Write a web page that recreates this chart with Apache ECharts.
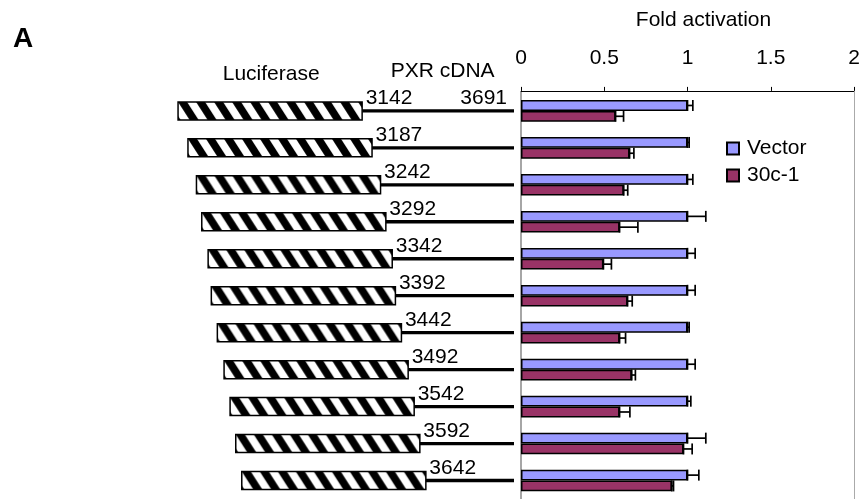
<!DOCTYPE html>
<html><head><meta charset="utf-8">
<script src="https://cdn.jsdelivr.net/npm/echarts@6/dist/echarts.min.js"></script>
<style>html,body{margin:0;padding:0;background:#fff}#c{width:863px;height:499px}</style>
</head><body><div id="c"></div>
<script>
// ---- data ----
const categories = ['3142','3187','3242','3292','3342','3392','3442','3492','3542','3592','3642'];
const cdnaEndLabel = '3691';
const seriesNames = ['Vector', '30c-1'];
const vectorValues = [1, 1, 1, 1, 1, 1, 1, 1, 1, 1, 1];
const vectorErrors = [0.032, 0.01, 0.032, 0.11, 0.046, 0.046, 0.01, 0.046, 0.02, 0.11, 0.068];
const c30Values = [0.568, 0.652, 0.617, 0.592, 0.495, 0.640, 0.592, 0.665, 0.592, 0.976, 0.906];
const c30Errors = [0.048, 0.026, 0.024, 0.11, 0.048, 0.028, 0.036, 0.022, 0.062, 0.052, 0.01];
// schematic diagram (arbitrary diagram units 0-100): end of luciferase block per construct
const lucEnd = [57.1, 59.9, 62.3, 63.8, 65.6, 66.5, 68.2, 70.1, 71.8, 73.4, 75.1];
const lucLength = 52;
const cdnaStop = 100;

// ---- styles ----
const FONT = '"Liberation Sans", Arial, sans-serif';
const BAR_W = 10.8;

// hatch pattern
const tile = document.createElement('canvas');
tile.width = 18; tile.height = 28;
(function () {
  const g = tile.getContext('2d');
  g.fillStyle = '#fff'; g.fillRect(0, 0, 18, 28);
  g.fillStyle = '#000';
  for (const s of [-18, 0, 18]) {
    g.beginPath();
    g.moveTo(s, 0); g.lineTo(s + 9, 0); g.lineTo(s + 27, 28); g.lineTo(s + 18, 28);
    g.closePath(); g.fill();
  }
})();

function errorSeries(name, values, errors, dir) {
  return {
    type: 'custom', name: name + ' err', xAxisIndex: 0, yAxisIndex: 0, z: 5,
    silent: true,
    data: values.map((v, i) => [v, errors[i], i]),
    encode: { x: 0, y: 2 },
    renderItem: function (params, api) {
      const v = api.value(0), e = api.value(1), i = api.value(2);
      const a = api.coord([v, i]), b = api.coord([v + e, i]);
      const y = a[1] + dir * BAR_W / 2;
      const st = { stroke: '#000', lineWidth: 1.7 };
      return { type: 'group', children: [
        { type: 'line', shape: { x1: a[0], y1: y, x2: b[0], y2: y }, style: st },
        { type: 'line', shape: { x1: a[0], y1: y - 5.5, x2: a[0], y2: y + 5.5 }, style: st },
        { type: 'line', shape: { x1: b[0], y1: y - 5.5, x2: b[0], y2: y + 5.5 }, style: st }
      ]};
    }
  };
}

const chart = echarts.init(document.getElementById('c'), null, { renderer: 'canvas' });
const GRID_TOP = 92.4, GRID_H = 409.2;
chart.setOption({
  animation: false,
  backgroundColor: '#fff',
  textStyle: { fontFamily: FONT },
  grid: [
    { left: 521, top: GRID_TOP, width: 333, height: GRID_H },
    { left: 160, top: GRID_TOP, width: 354, height: GRID_H }
  ],
  xAxis: [
    { gridIndex: 0, type: 'value', position: 'top', min: 0, max: 2, interval: 0.5, offset: 1.5,
      axisLine: { show: true, lineStyle: { color: '#000', width: 1 } },
      axisTick: { show: true, length: 4, lineStyle: { color: '#000', width: 1 } },
      axisLabel: { fontSize: 21, color: '#000', margin: 22, fontFamily: FONT },
      splitLine: { show: false } },
    { gridIndex: 1, type: 'value', min: 0, max: 100, show: false }
  ],
  yAxis: [
    { gridIndex: 0, type: 'category', data: categories, inverse: true,
      axisLine: { show: true, lineStyle: { color: '#888', width: 1.5 } },
      axisTick: { show: false }, axisLabel: { show: false } },
    { gridIndex: 0, type: 'category', data: categories, inverse: true, position: 'right',
      axisLine: { show: true, lineStyle: { color: '#aaa', width: 1 } },
      axisTick: { show: false }, axisLabel: { show: false } },
    { gridIndex: 1, type: 'category', data: categories, inverse: true, show: false }
  ],
  legend: {
    data: seriesNames, orient: 'vertical', left: 726, top: 138, padding: 0,
    itemWidth: 12, itemHeight: 12, itemGap: 6, icon: 'rect',
    textStyle: { fontSize: 21, color: '#000', fontFamily: FONT, padding: [0, 0, 0, 3] }
  },
  graphic: [
    { type: 'text', left: 13, top: 25.5, style: { text: 'A', font: 'bold 28px ' + FONT, fill: '#000' } },
    { type: 'text', left: 222.7, top: 63.9, style: { text: 'Luciferase', font: '21px ' + FONT, fill: '#000' } },
    { type: 'text', left: 390.7, top: 61.2, style: { text: 'PXR cDNA', font: '21px ' + FONT, fill: '#000' } },
    { type: 'text', x: 703.5, y: 10, style: { text: 'Fold activation', font: '21px ' + FONT, fill: '#000', align: 'center', verticalAlign: 'top' } }
  ],
  series: [
    { type: 'bar', name: seriesNames[0], xAxisIndex: 0, yAxisIndex: 0, data: vectorValues,
      barWidth: BAR_W, barGap: '0%',
      itemStyle: { color: '#9999FF', borderColor: '#000', borderWidth: 1.5 } },
    { type: 'bar', name: seriesNames[1], xAxisIndex: 0, yAxisIndex: 0, data: c30Values,
      barWidth: BAR_W, barGap: '0%',
      itemStyle: { color: '#993366', borderColor: '#000', borderWidth: 1.5 } },
    errorSeries(seriesNames[0], vectorValues, vectorErrors, -1),
    errorSeries(seriesNames[1], c30Values, c30Errors, 1),
    { type: 'custom', name: 'schematic', xAxisIndex: 1, yAxisIndex: 2, silent: true,
      data: lucEnd.map((e, i) => [e - lucLength, e, i]),
      encode: { x: [0, 1], y: 2 },
      renderItem: function (params, api) {
        const s = api.value(0), e = api.value(1), i = api.value(2);
        const p1 = api.coord([s, i]), p2 = api.coord([e, i]), p3 = api.coord([cdnaStop, i]);
        const cy = p1[1];
        const children = [
          { type: 'line', shape: { x1: p2[0], y1: cy, x2: p3[0], y2: cy },
            style: { stroke: '#000', lineWidth: 3.3 } },
          { type: 'rect', shape: { x: p1[0], y: cy - 9, width: p2[0] - p1[0], height: 18 },
            style: { fill: { image: tile, repeat: 'repeat', x: p1[0], y: cy - 9 }, stroke: '#000', lineWidth: 1.5 } },
          { type: 'text', x: p2[0] + 3.5, y: cy - 22.85,
            style: { text: categories[i], font: '21px ' + FONT, fill: '#000', verticalAlign: 'top' } }
        ];
        if (i === 0) {
          children.push({ type: 'text', x: p3[0] - 7, y: cy - 22.85,
            style: { text: cdnaEndLabel, font: '21px ' + FONT, fill: '#000', align: 'right', verticalAlign: 'top' } });
        }
        return { type: 'group', children: children };
      }
    }
  ]
});
</script>
</body></html>
